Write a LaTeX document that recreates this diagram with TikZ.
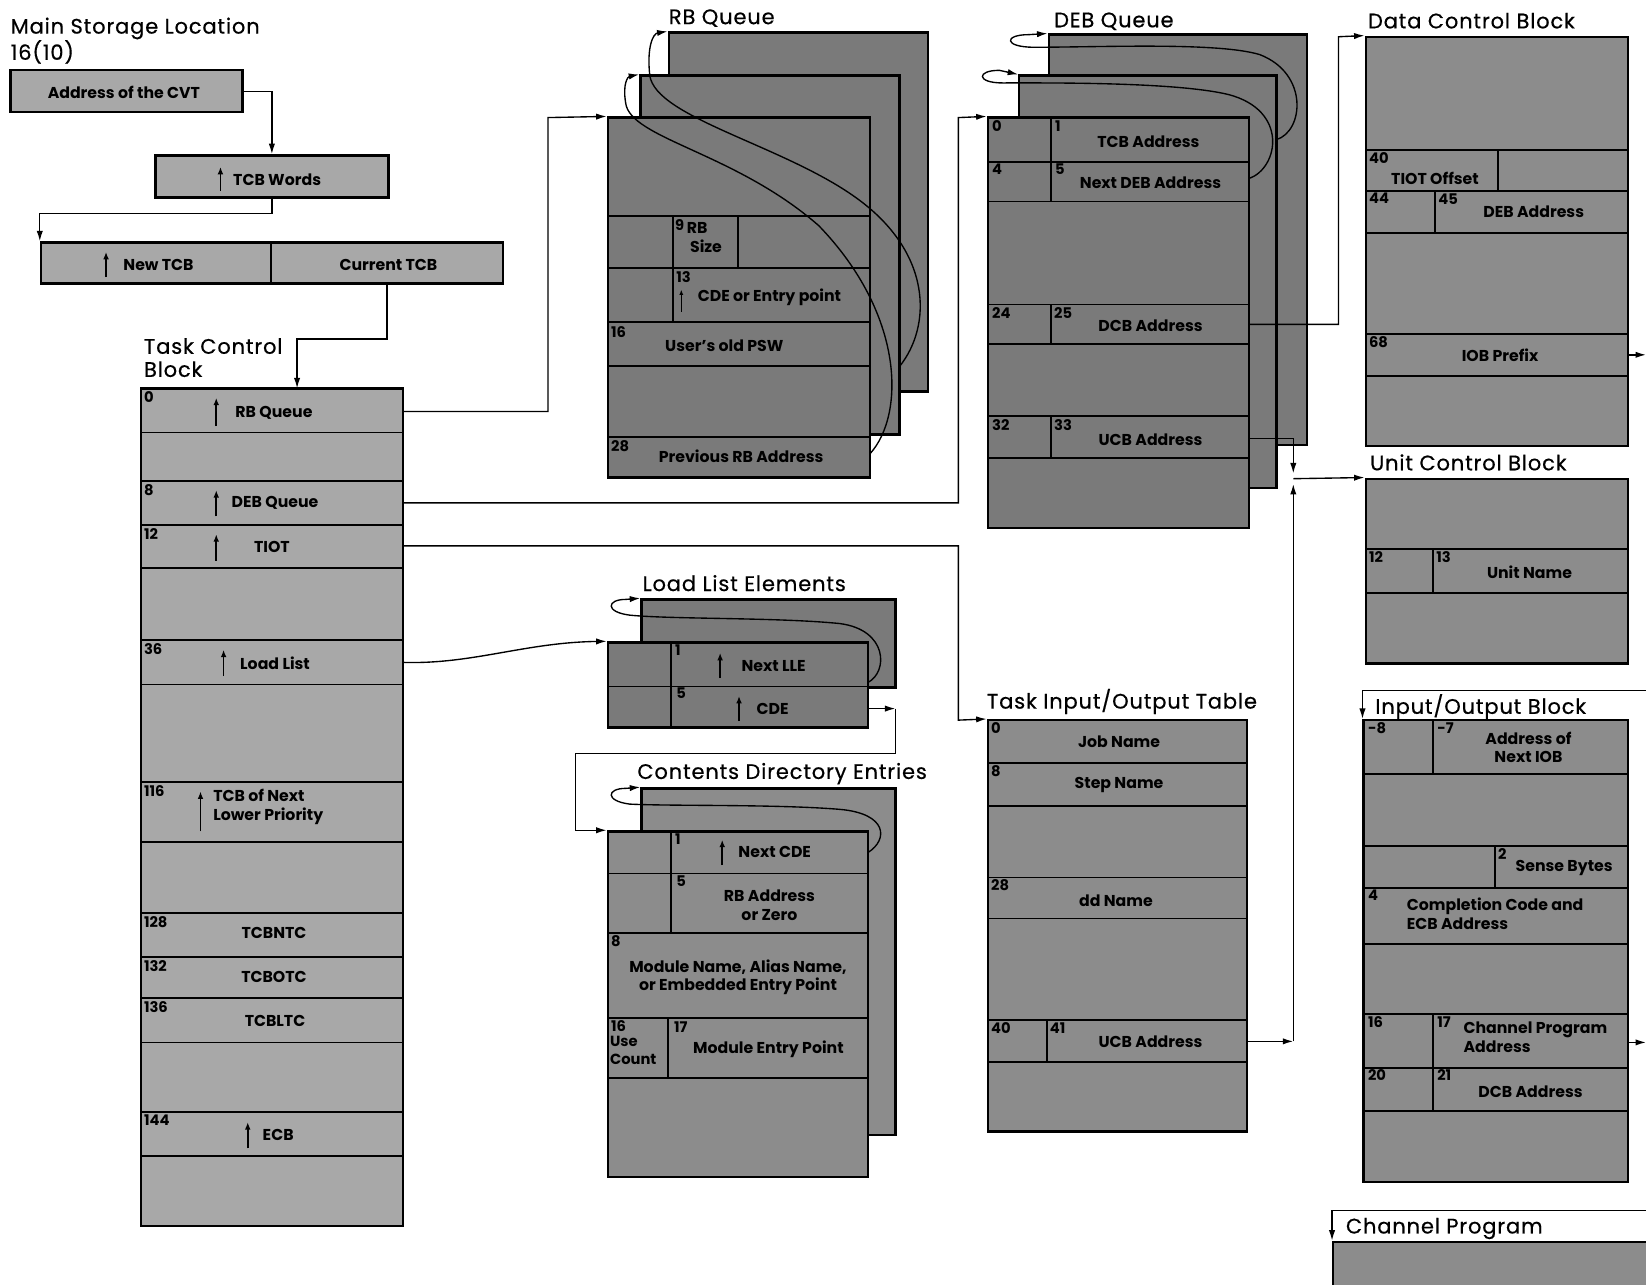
\documentclass[tikz,border=0pt]{standalone}
\usepackage{fontspec}
\setmainfont{Poppins}
\newfontfamily\ttlf{Poppins}[LetterSpace=4.0,FakeBold=0.5]
\usetikzlibrary{arrows.meta,fit}
\definecolor{lgray}{RGB}{168,168,168}
\definecolor{dgray}{RGB}{122,122,122}
\definecolor{mgray}{RGB}{140,140,140}
\tikzset{
  bx/.style={draw=black, line width=2.2pt, inner sep=0pt},
  lblk/.style={bx, fill=lgray},
  dblk/.style={bx, fill=dgray},
  mblk/.style={bx, fill=mgray},
  rl/.style={line width=1.7pt},
  fld/.style={font=\bfseries\fontsize{15}{18}\selectfont, inner sep=0pt, align=center},
  fldl/.style={fld, align=left, anchor=north west},
  num/.style={font=\bfseries\fontsize{14}{14}\selectfont, anchor=north west, inner sep=0pt},
  ttl/.style={font=\ttlf\fontsize{20}{22}\selectfont, anchor=base west, inner sep=0pt},
  conn/.style={line width=1.3pt, -{Latex[length=10pt,width=6pt]}},
  plainline/.style={line width=1.3pt},
  uarr/.style={line width=1.6pt, -{Latex[length=7pt,width=5.5pt]}},
}
\begin{document}
\begin{tikzpicture}[x=1pt,y=-1pt]
\useasboundingbox[fill=white] (0,0) rectangle (1568,1224);

% ---------------- titles
\node[ttl] (t-msl) at (10,32) {Main Storage Location};
\node[ttl] (t-1610) at (10,57) {16(10)};
\node[ttl] (t-tcb1) at (137,337) {Task Control};
\node[ttl] (t-tcb2) at (137,359) {Block};
\node[ttl] (t-rbq) at (637,23) {RB Queue};
\node[ttl] (t-debq) at (1004,26) {DEB Queue};
\node[ttl] (t-dcb) at (1303,27) {Data Control Block};
\node[ttl] (t-ucb) at (1305,448) {Unit Control Block};
\node[ttl] (t-iob) at (1310,680) {Input/Output Block};
\node[ttl] (t-lle) at (612,563) {Load List Elements};
\node[ttl] (t-cde) at (607,742) {Contents Directory Entries};
\node[ttl] (t-tiot) at (940,675) {Task Input/Output Table};
\node[ttl] (t-chp) at (1282,1175) {Channel Program};

% ---------------- top-left pointer boxes
\node[lblk, fit={(10,67) (231,107)}] (cvt) {};
\node[fld] (cvt-t) at (118,88) {Address of the CVT};
\node[lblk, fit={(148,148) (370,188)}] (tcbw) {};
\node[fld] (tcbw-t) at (264,171) {TCB Words};
\draw[uarr] (210,182) -- (210,159);
\node[lblk, fit={(39,231) (258,270)}] (newtcb) {};
\node[lblk, fit={(258,231) (479,270)}] (curtcb) {};
\node[fld] (newtcb-t) at (151,252) {New TCB};
\draw[uarr] (101,264) -- (101,240);
\node[fld] (curtcb-t) at (370,252) {Current TCB};

% ---------------- Task Control Block
\node[lblk, fit={(134,370) (384,1168)}] (tcb) {};
\foreach \y in {412,458,500,541,610,652,745,802,870,912,951,993,1059,1101}
  \draw[rl] (134,\y) -- (384,\y);
\node[num] (tcb-n0) at (137,373) {0};
\node[num] (tcb-n8) at (137,461) {8};
\node[num] (tcb-n12) at (137,503) {12};
\node[num] (tcb-n36) at (137,613) {36};
\node[num] (tcb-n116) at (137,748) {116};
\node[num] (tcb-n128) at (137,873) {128};
\node[num] (tcb-n132) at (137,915) {132};
\node[num] (tcb-n136) at (137,954) {136};
\node[num] (tcb-n144) at (137,1062) {144};
\node[fld] (tcb-t0) at (261,393) {RB Queue};
\draw[uarr] (206,406) -- (206,379);
\node[fld] (tcb-t8) at (262,479) {DEB Queue};
\draw[uarr] (206,492) -- (206,467);
\node[fld] (tcb-t12) at (259,521) {TIOT};
\draw[uarr] (206,534) -- (206,509);
\node[fld] (tcb-t36) at (262,632) {Load List};
\draw[uarr] (213,644) -- (213,619);
\node[fldl] (tcb-t116) at (203,752) {TCB of Next\\Lower Priority};
\draw[uarr] (191,792) -- (191,754);
\node[fld] (tcb-t128) at (261,889) {TCBNTC};
\node[fld] (tcb-t132) at (261,931) {TCBOTC};
\node[fld] (tcb-t136) at (262,973) {TCBLTC};
\node[fld] (tcb-t144) at (265,1081) {ECB};
\draw[uarr] (236,1094) -- (236,1069);

% ---------------- RB Queue
\node[dblk, fit={(637,31) (884,373)}] (rbb) {};
\node[dblk, fit={(610,72) (857,414)}] (rbm) {};
\node[dblk, fit={(579,112) (829,455)}] (rbf) {};
\foreach \y in {206,255,307,349,416} \draw[rl] (579,\y) -- (829,\y);
\draw[rl] (641,206) -- (641,307);
\draw[rl] (703,206) -- (703,255);
\node[num] (rb-n9) at (643,209) {9};
\node[fldl] (rb-t9) at (654,212) {RB\\\ Size};
\node[num] (rb-n13) at (644,258) {13};
\draw[line width=1.2pt, -{Latex[length=5pt,width=4pt]}] (649,297) -- (649,276);
\node[fld] (rb-t13) at (733,283) {CDE or Entry point};
\node[num] (rb-n16) at (582,311) {16};
\node[fld] (rb-t16) at (690,329) {User's old PSW};
\node[num] (rb-n28) at (582,419) {28};
\node[fld] (rb-t28) at (706,435) {Previous RB Address};

% ---------------- DEB Queue
\node[dblk, fit={(999,33) (1245,424)}] (debb) {};
\node[dblk, fit={(971,72) (1216,465)}] (debm) {};
\node[dblk, fit={(941,112) (1190,503)}] (debf) {};
\foreach \y in {154,192,290,328,396,436} \draw[rl] (941,\y) -- (1190,\y);
\draw[rl] (1001,112) -- (1001,192);
\draw[rl] (1001,290) -- (1001,328);
\draw[rl] (1001,396) -- (1001,436);
\node[num] (deb-n0) at (945,115) {0};
\node[num] (deb-n1) at (1005,115) {1};
\node[fld] (deb-t1) at (1094,135) {TCB Address};
\node[num] (deb-n4) at (945,156) {4};
\node[num] (deb-n5) at (1005,156) {5};
\node[fld] (deb-t5) at (1096,174) {Next DEB Address};
\node[num] (deb-n24) at (945,293) {24};
\node[num] (deb-n25) at (1004,293) {25};
\node[fld] (deb-t25) at (1096,310) {DCB Address};
\node[num] (deb-n32) at (945,399) {32};
\node[num] (deb-n33) at (1004,399) {33};
\node[fld] (deb-t33) at (1096,419) {UCB Address};

% ---------------- Data Control Block
\node[mblk, fit={(1301,35) (1551,425)}] (dcb) {};
\foreach \y in {143,182,222,318,358} \draw[rl] (1301,\y) -- (1551,\y);
\draw[rl] (1427,143) -- (1427,182);
\draw[rl] (1367,182) -- (1367,222);
\node[num] (dcb-n40) at (1304,145) {40};
\node[fld] (dcb-t40) at (1367,170) {TIOT Offset};
\node[num] (dcb-n44) at (1304,184) {44};
\node[num] (dcb-n45) at (1370,184) {45};
\node[fld] (dcb-t45) at (1461,202) {DEB Address};
\node[num] (dcb-n68) at (1304,320) {68};
\node[fld] (dcb-t68) at (1429,338) {IOB Prefix};

% ---------------- Unit Control Block
\node[mblk, fit={(1301,456) (1551,632)}] (ucb) {};
\foreach \y in {523,565} \draw[rl] (1301,\y) -- (1551,\y);
\draw[rl] (1365,523) -- (1365,565);
\node[num] (ucb-n12) at (1304,525) {12};
\node[num] (ucb-n13) at (1368,525) {13};
\node[fld] (ucb-t13) at (1457,545) {Unit Name};

% ---------------- Input/Output Block
\node[mblk, fit={(1299,686) (1551,1126)}] (iob) {};
\foreach \y in {737,806,846,899,966,1017,1058} \draw[rl] (1299,\y) -- (1551,\y);
\draw[rl] (1365,686) -- (1365,737);
\draw[rl] (1424,806) -- (1424,846);
\draw[rl] (1365,966) -- (1365,1058);
\node[num] (iob-nm8) at (1303,688) {-8};
\node[num] (iob-nm7) at (1369,688) {-7};
\node[fld] (iob-tm7) at (1456,712) {Address of\\Next IOB};
\node[num] (iob-n2) at (1427,808) {2};
\node[fld] (iob-t2) at (1490,827) {Sense Bytes};
\node[num] (iob-n4) at (1303,848) {4};
\node[fldl] (iob-t4) at (1340,855) {Completion Code and\\ECB Address};
\node[num] (iob-n16) at (1303,968) {16};
\node[num] (iob-n17) at (1369,968) {17};
\node[fldl] (iob-t17) at (1394,973) {Channel Program\\Address};
\node[num] (iob-n20) at (1303,1019) {20};
\node[num] (iob-n21) at (1369,1019) {21};
\node[fld] (iob-t21) at (1458,1040) {DCB Address};

% ---------------- Task Input/Output Table
\node[mblk, fit={(941,686) (1188,1078)}] (tiot) {};
\foreach \y in {727,768,836,875,972,1012} \draw[rl] (941,\y) -- (1188,\y);
\draw[rl] (997,972) -- (997,1012);
\node[num] (tiot-n0) at (944,688) {0};
\node[fld] (tiot-t0) at (1066,707) {Job Name};
\node[num] (tiot-n8) at (944,729) {8};
\node[fld] (tiot-t8) at (1066,748) {Step Name};
\node[num] (tiot-n28) at (944,838) {28};
\node[fld] (tiot-t28) at (1063,858) {dd Name};
\node[num] (tiot-n40) at (944,974) {40};
\node[num] (tiot-n41) at (1000,974) {41};
\node[fld] (tiot-t41) at (1096,992) {UCB Address};

% ---------------- Load List Elements
\node[dblk, fit={(611,571) (853,655)}] (lleb) {};
\node[dblk, fit={(579,612) (827,693)}] (llef) {};
\draw[rl] (579,654) -- (827,654);
\draw[rl] (639,612) -- (639,693);
\node[num] (lle-n1) at (643,614) {1};
\node[fld] (lle-t1) at (737,634) {Next LLE};
\draw[uarr] (686,646) -- (686,622);
\node[num] (lle-n5) at (644,655) {5};
\node[fld] (lle-t5) at (736,675) {CDE};
\draw[uarr] (704,687) -- (704,663);

% ---------------- Contents Directory Entries
\node[mblk, fit={(611,751) (853,1081)}] (cdeb) {};
\node[mblk, fit={(579,792) (827,1121)}] (cdef) {};
\foreach \y in {832,889,970,1027} \draw[rl] (579,\y) -- (827,\y);
\draw[rl] (639,792) -- (639,889);
\draw[rl] (636,970) -- (636,1027);
\node[num] (cde-n1) at (643,794) {1};
\node[fld] (cde-t1) at (738,812) {Next CDE};
\draw[uarr] (688,824) -- (688,800);
\node[num] (cde-n5) at (644,834) {5};
\node[fld] (cde-t5) at (733,862) {RB Address\\or Zero};
\node[num] (cde-n8) at (582,891) {8};
\node[fld] (cde-t8) at (703,931) {Module Name, Alias Name,\\or Embedded Entry Point};
\node[num] (cde-n16) at (582,972) {16};
\node[fldl, font=\bfseries\fontsize{14}{17}\selectfont] (cde-t16) at (581,987) {Use\\Count};
\node[num] (cde-n17) at (642,973) {17};
\node[fld] (cde-t17) at (732,1000) {Module Entry Point};

% ---------------- Channel Program
\node[mblk, fit={(1270,1183) (1580,1240)}] (chp) {};

% ---------------- connectors
\draw[conn] (cvt.east) -| (tcbw.north);
\draw[conn] (tcbw.south) -- ++(0,14) -| (newtcb.north west);
\coordinate (tcbin) at (283,370);
\draw[conn] (curtcb.south) -- ++(0,52) -| (tcbin);

\coordinate (tcb-rb) at (384,392);
\coordinate (rbturn) at (522,112);
\draw[conn] (tcb-rb) -| (rbturn) -- (rbf.north west);

\coordinate (tcb-deb) at (384,479);
\coordinate (debturn) at (913,112);
\draw[conn] (tcb-deb) -| (debturn) -- (debf.north west);

\coordinate (tcb-tiot) at (384,520);
\coordinate (tiotturn) at (913,686);
\draw[conn] (tcb-tiot) -| (tiotturn) -- (tiot.north west);

\coordinate (tcb-ll) at (384,631);
\draw[conn] (tcb-ll) .. controls (450,633) and (500,612) .. (llef.north west);

\coordinate (lle-cde) at (827,675);
\coordinate (llecorner) at (853,675);
\coordinate (cdeturn) at (548,718);
\draw[conn] (lle-cde) -- (llecorner);
\draw[plainline] (llecorner) |- (cdeturn);
\draw[conn] (cdeturn) |- (cdef.north west);

\coordinate (deb-dcb) at (1190,309);
\coordinate (dcbturn) at (1275,35);
\draw[conn] (deb-dcb) -| (dcbturn) -- (dcb.north west);

\coordinate (deb-ucb) at (1190,418);
\coordinate (jtop) at (1232,451);
\coordinate (jn) at (1232,456);
\coordinate (jbot) at (1232,461);
\draw[conn] (deb-ucb) -| (jtop);
\draw[conn] (jn) -- (ucb.north west);
\coordinate (tiot-ucb) at (1188,992);
\coordinate (tiotcorner) at (1232,992);
\draw[conn] (tiot-ucb) -- (tiotcorner);
\draw[conn] (tiotcorner) -- (jbot);

\coordinate (dcb-iob) at (1551,338);
\coordinate (edge1) at (1568,338);
\draw[conn] (dcb-iob) -- (edge1);
\coordinate (edge2) at (1568,658);
\draw[conn] (edge2) -| (iob.north west);
\coordinate (iob-ch) at (1551,993);
\coordinate (edge3) at (1568,993);
\draw[conn] (iob-ch) -- (edge3);
\coordinate (edge4) at (1568,1153);
\draw[conn] (edge4) -| (chp.north west);

% ---------------- chain loops
\coordinate (rbf-prev) at (829,432);
\draw[conn] (rbf-prev) .. controls (862,395) and (862,300) .. (780,215)
   .. controls (700,145) and (600,132) .. (596,98)
   .. controls (593,80) and (598,73) .. (rbm.north west);
\coordinate (rbm-prev) at (857,349);
\draw[conn] (rbm-prev) .. controls (888,310) and (888,240) .. (815,188)
   .. controls (745,138) and (625,112) .. (619,72)
   .. controls (616,45) and (622,32) .. (rbb.north west);

\coordinate (debf-next) at (1190,170);
\draw[conn] (debf-next) .. controls (1218,160) and (1228,105) .. (1170,90)
   .. controls (1120,78) and (1000,79) .. (955,79)
   .. controls (930,79) and (930,67) .. (952,67) -- (debm.north west);
\coordinate (debm-next) at (1216,133);
\draw[conn] (debm-next) .. controls (1242,125) and (1247,70) .. (1200,52)
   .. controls (1160,40) and (1050,45) .. (985,45)
   .. controls (956,45) and (956,33) .. (980,33) -- (debb.north west);

\coordinate (llef-next) at (827,650);
\draw[conn] (llef-next) .. controls (846,640) and (846,600) .. (800,594)
   .. controls (740,588) and (640,590) .. (600,586)
   .. controls (576,583) and (578,571) .. (596,571) -- (lleb.north west);
\coordinate (cdef-next) at (827,812);
\draw[conn] (cdef-next) .. controls (846,800) and (846,775) .. (800,771)
   .. controls (740,766) and (640,768) .. (600,766)
   .. controls (576,763) and (578,751) .. (596,751) -- (cdeb.north west);
\end{tikzpicture}
\end{document}
